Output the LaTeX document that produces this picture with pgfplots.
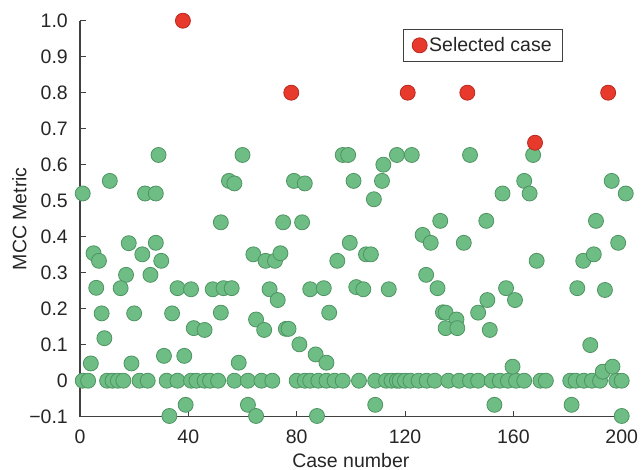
\documentclass[border=0pt]{standalone}
\usepackage{fontspec}
\setmainfont{Liberation Sans}
\usepackage{pgfplots}
\pgfplotsset{compat=1.18}
\definecolor{gfill}{RGB}{110,189,132}
\definecolor{gedge}{RGB}{78,148,98}
\definecolor{rfill}{RGB}{232,58,44}
\definecolor{redge}{RGB}{185,40,30}
\newcommand{\lbl}{\fontsize{19.5}{23}\selectfont}
\begin{document}
\begin{tikzpicture}
\begin{axis}[
  scale only axis, width=541.7pt, height=396pt,
  xmin=0, xmax=200, ymin=-0.1, ymax=1.0,
  axis lines=left,
  axis line style={-, line width=1.1pt, color=black!75},
  clip=false,
  xtick={0,40,80,120,160,200},
  xticklabels={0,40,80,120,160,200},
  ytick={-0.1,0,0.1,0.2,0.3,0.4,0.5,0.6,0.7,0.8,0.9,1.0},
  yticklabels={−0.1,0,0.1,0.2,0.3,0.4,0.5,0.6,0.7,0.8,0.9,1.0},
  tick align=inside,
  major tick length=6pt,
  tick style={line width=1pt, color=black!75},
  ticklabel style={font=\lbl, text=black!85},
  yticklabel style={inner sep=0pt, xshift=-12pt},
  xticklabel style={inner sep=0pt, yshift=-13pt},
  every axis y label/.style={at={(axis description cs:-0.1117,0.5)}, rotate=90, anchor=center, font=\lbl, text=black!85},
  every axis x label/.style={at={(axis description cs:0.5,0)}, anchor=base, yshift=-50.5pt, font=\lbl, text=black!85},
  xlabel={Case number},
  ylabel={MCC Metric},
  legend style={at={(axis description cs:0.892,0.979)}, anchor=north east, draw=black!75, line width=1pt, font=\lbl, text=black!85, inner xsep=9pt, inner ysep=6pt},
  legend image code/.code={\draw[#1, only marks] plot coordinates {(0pt,0pt)};},
]
\addplot[only marks, mark=*, mark size=7.5pt, mark options={fill=gfill, draw=gedge, line width=0.8pt}, forget plot] coordinates {
(1,0) (3,0) (10,0) (12,0) (14,0) (16,0) (22,0) (25,0) (32,0) (36,0) (41,0) (43,0) (46,0) (48,0) (51,0)
(57,0) (62,0) (67,0) (71,0) (80,0) (83,0) (85,0) (88,0) (91,0) (94,0) (97,0)
(103,0) (109,0) (113,0) (115,0) (117,0) (118,0) (120,0) (122,0) (125,0) (128,0) (131,0) (136,0) (140,0) (144,0) (147,0)
(152,0) (155,0) (158,0) (161,0) (164,0) (170,0) (172,0) (181,0) (183,0) (186,0) (189,0) (192,0) (198,0) (200,0)
(1,0.52) (24,0.52) (28,0.52) (11,0.555) (29,0.627) (52,0.44)
(5,0.354) (7,0.333) (18,0.382) (23,0.351) (28,0.383) (30,0.333) (17,0.294) (26,0.294)
(6,0.258) (15,0.257) (36,0.257) (41,0.254) (49,0.254) (53,0.257) (56,0.257)
(8,0.187) (20,0.187) (34,0.187) (52,0.189)
(42,0.146) (46,0.141) (9,0.118) (31,0.069) (38.5,0.069) (4,0.048) (19,0.048)
(39,-0.067) (33,-0.098)
(60,0.627) (55,0.555) (57,0.548) (79,0.555) (83,0.548) (97,0.627) (99,0.627)
(75,0.44) (82,0.44) (64,0.351) (68.5,0.333) (72,0.333) (74,0.354) (95,0.333)
(70,0.254) (73,0.224) (85,0.254) (90,0.257) (92,0.189)
(65,0.17) (68,0.141) (76,0.144) (77,0.144) (81,0.101) (87,0.073) (91,0.05) (58.6,0.05)
(62,-0.067) (65,-0.098) (87.5,-0.098)
(117,0.627) (122.5,0.627) (112,0.6) (144,0.627) (101,0.555) (111.5,0.555) (108.5,0.504) (133,0.444)
(126.5,0.405) (129.5,0.383) (141.7,0.383) (99.6,0.383) (105.6,0.351) (107.4,0.351) (127.8,0.294)
(102,0.26) (104.6,0.254) (114,0.254) (132,0.257) (134,0.19) (135,0.189) (139,0.17) (135,0.146) (139.3,0.146) (147,0.189)
(109,-0.067)
(167.3,0.627) (164,0.555) (156,0.52) (166,0.52) (150,0.444) (196.3,0.555) (201.5,0.52) (190.5,0.444) (198.7,0.383)
(168.6,0.333) (185.8,0.333) (189.7,0.351) (157.3,0.257) (150.4,0.224) (160.6,0.224) (183.6,0.257) (193.8,0.252)
(151.3,0.141) (188.4,0.099) (159.7,0.039) (193,0.025) (196.6,0.039)
(153,-0.067) (181.5,-0.067) (200,-0.098)
};
\addplot[only marks, mark=*, mark size=7.5pt, mark options={fill=rfill, draw=redge, line width=0.8pt}] coordinates {
(38,1.0) (78,0.8) (121,0.8) (143,0.8) (168,0.661) (195,0.8)
};
\addlegendentry{Selected case}
\end{axis}
\pgfresetboundingbox
\useasboundingbox (current axis.south west) ++(-80pt,-53.3pt) rectangle ++(644pt,470pt);
\end{tikzpicture}
\end{document}
